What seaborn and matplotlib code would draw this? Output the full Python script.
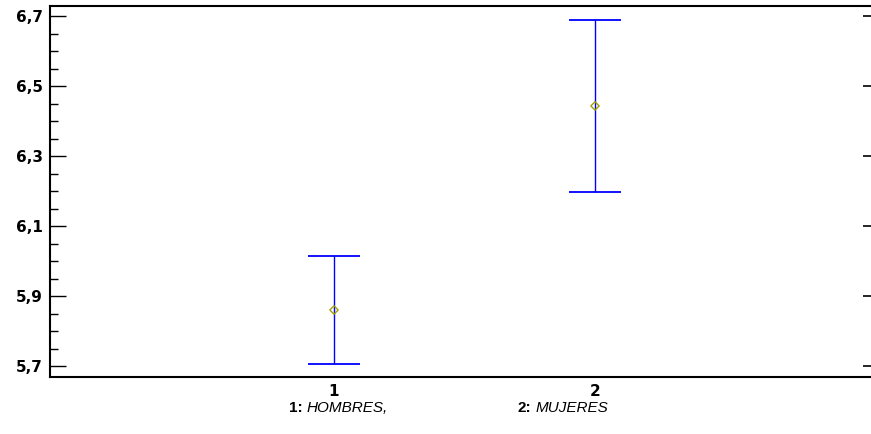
import matplotlib
matplotlib.use("Agg")
import matplotlib.pyplot as plt
from matplotlib.ticker import MultipleLocator
import numpy as np
import pandas as pd
import seaborn as sns

# Group means with interval half-widths
groups = [1, 2]
group_names = ["HOMBRES,", "MUJERES"]
means = [5.860, 6.443]
half_width = [0.154, 0.246]

y_ticks = [5.7, 5.9, 6.1, 6.3, 6.5, 6.7]

df = pd.DataFrame({"grupo": groups, "media": means, "hw": half_width})

sns.set_theme(style="ticks")
plt.rcParams["font.family"] = ["Liberation Sans", "DejaVu Sans"]
for key in ["text.color", "axes.labelcolor", "xtick.color", "ytick.color", "axes.edgecolor"]:
    plt.rcParams[key] = "black"

fig = plt.figure(figsize=(8.71, 4.34), dpi=100)
ax = fig.add_axes([50 / 871, 1 - 377 / 434, 821 / 871, 371 / 434])

ax.errorbar(df["grupo"], df["media"], yerr=df["hw"], fmt="none",
            ecolor="#0000ff", elinewidth=1.0, capsize=18.7, capthick=1.3, zorder=2)
sns.scatterplot(data=df, x="grupo", y="media", ax=ax, marker="D", s=18,
                facecolor="none", edgecolor="#a0a000", linewidth=1.0, zorder=3,
                legend=False)

xlim = (1 - 284 / 261, 2 + 276 / 261)
ylim = (6.7 - 361 / 350, 6.7 + 10 / 350)
ax.set_xlim(*xlim)
ax.set_ylim(*ylim)

tick_font = {"family": "DejaVu Sans", "weight": "bold", "size": 11}

ax.set_xticks(groups)
ax.set_xticklabels([str(g) for g in groups], fontdict=tick_font)
ax.set_yticks(y_ticks)
ax.set_yticklabels([f"{v:.1f}".replace(".", ",") for v in y_ticks], fontdict=tick_font)
ax.yaxis.set_minor_locator(MultipleLocator(0.05))

ax.tick_params(axis="x", length=0, pad=5)
ax.tick_params(axis="y", which="major", direction="in", length=11.5, width=1.0,
               pad=5, left=True, right=False)
ax.tick_params(axis="y", which="minor", direction="in", length=6, width=1.0,
               left=True, right=False)

for side in ["left", "top", "bottom"]:
    ax.spines[side].set_linewidth(1.5)
ax.spines["right"].set_visible(False)
ax.set_xlabel("")
ax.set_ylabel("")

# Short inward ticks along the right edge
ax_r = ax.twinx()
ax_r.set_ylim(*ylim)
ax_r.set_yticks(y_ticks)
ax_r.set_yticklabels([])
ax_r.yaxis.set_minor_locator(plt.NullLocator())
ax_r.tick_params(axis="y", direction="in", length=6, width=1.2, right=True, left=False)
for side in ["left", "top", "bottom", "right"]:
    ax_r.spines[side].set_visible(False)

# Group legend beneath the axis: bold number followed by italic name
ty = 1 - 408 / 434
renderer = fig.canvas.get_renderer()
name_right = [388, 608]
for g, name, xr in zip(groups, group_names, name_right):
    t_name = fig.text(xr / 871, ty, name, fontsize=11, fontstyle="italic",
                      va="center", ha="right")
    x0 = t_name.get_window_extent(renderer=renderer).x0
    fig.text((x0 - 4) / 871, ty, f"{g}:", fontsize=11, fontweight="bold",
             va="center", ha="right")

fig.savefig("out.png", dpi=100, facecolor="white")
